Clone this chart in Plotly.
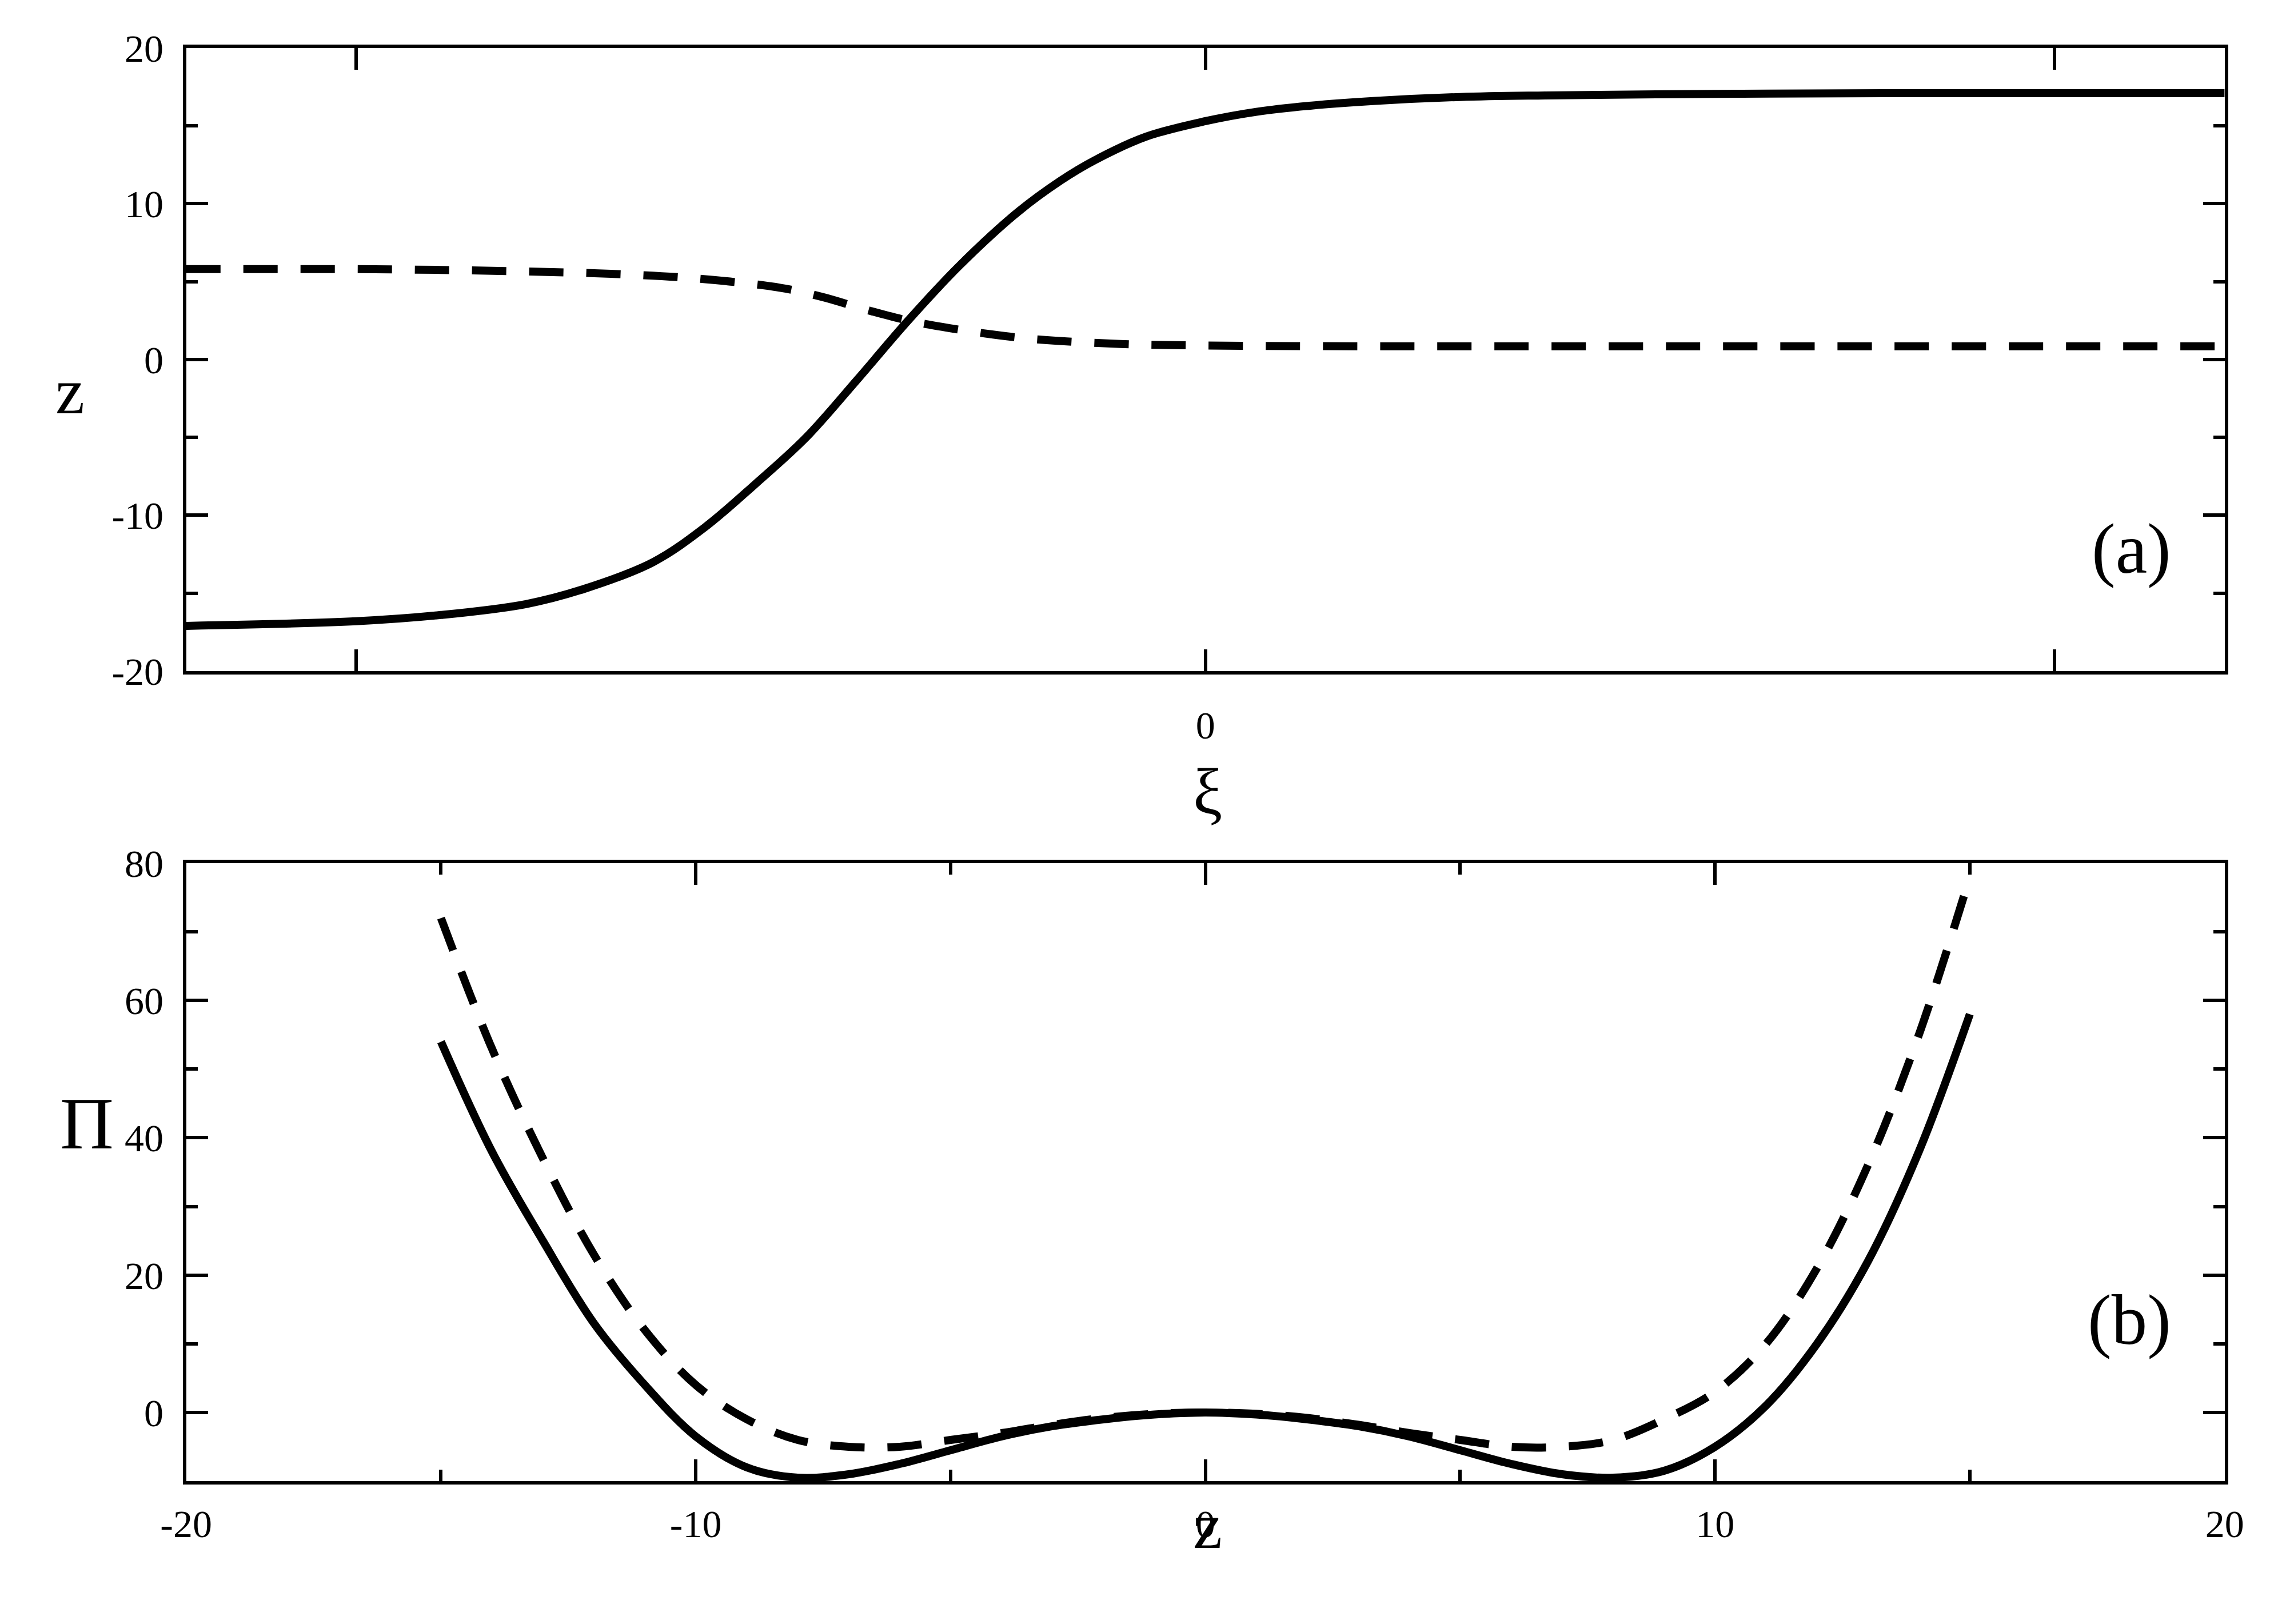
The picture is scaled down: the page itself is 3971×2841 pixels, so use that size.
import plotly.graph_objects as go

xi_solid = [-12,-10,-9,-8,-7.3,-6.5,-5.9,-5.3,-4.7,-4.1,-3.5,-2.9,-2.2,-1.7,-1.3,-0.7,0,0.6,1.25,2,3,4,6,8,12]
z_solid = [-17.1,-16.8,-16.4,-15.7,-14.7,-13.0,-10.8,-8.0,-5.0,-1.3,2.5,6.0,9.5,11.5,12.8,14.3,15.3,15.9,16.3,16.6,16.85,16.95,17.05,17.1,17.1]
xi_dash = [-12,-10,-9,-8,-7,-6,-5,-4.5,-4,-3.5,-3,-2.5,-2,-1,0,2,4,8,12]
z_dash = [5.8,5.8,5.75,5.65,5.5,5.2,4.6,4.0,3.2,2.5,2.0,1.6,1.3,1.0,0.9,0.85,0.85,0.85,0.85]

zb = list(range(-15, 16))
pi_solid = [54,38,25,13,4,-3.5,-8,-9.5,-9,-7.5,-5.5,-3.5,-2,-1,-0.3,0,-0.3,-1,-2,-3.5,-5.5,-7.5,-9,-9.5,-8.5,-5,1,10,22,38,58]
pi_dash = [72,53,37,23,12,4,-1,-4,-5,-5,-4,-3,-1.8,-0.8,-0.2,0,-0.2,-0.8,-1.8,-3,-4,-5,-5,-4,-1,3,10,21,36,55,78]

top_y_ticks = [-20, -10, 0, 10, 20]
bot_x_ticks = [-20, -10, 0, 10, 20]
bot_y_ticks = [0, 20, 40, 60, 80]

LW = 14
DASH = "60px,40px"
fig = go.Figure()
fig.add_trace(go.Scatter(x=xi_solid, y=z_solid, mode="lines", line=dict(color="black", width=LW, shape="spline"), xaxis="x", yaxis="y"))
fig.add_trace(go.Scatter(x=xi_dash, y=z_dash, mode="lines", line=dict(color="black", width=LW, dash=DASH, shape="spline"), xaxis="x", yaxis="y"))
fig.add_trace(go.Scatter(x=zb, y=pi_solid, mode="lines", line=dict(color="black", width=LW, shape="spline"), xaxis="x2", yaxis="y2"))
fig.add_trace(go.Scatter(x=zb, y=pi_dash, mode="lines", line=dict(color="black", width=LW, dash=DASH, shape="spline"), xaxis="x2", yaxis="y2"))

tf = dict(family="Liberation Serif", size=68, color="black")
common = dict(showgrid=False, zeroline=False, showline=True, linecolor="black", linewidth=6, automargin=False,
              mirror="ticks", ticks="inside", ticklen=38, tickwidth=6, tickcolor="black", tickfont=tf)
minor = dict(ticks="inside", ticklen=20, tickwidth=6, tickcolor="black")
lab = lambda v: [str(t).replace("\u2212", "-") for t in v]

tfont = dict(family="Liberation Serif", size=115, color="black")
fig.update_layout(
    width=3971, height=2841, paper_bgcolor="white", plot_bgcolor="white", showlegend=False,
    margin=dict(l=0, r=0, t=0, b=0),
    xaxis=dict(domain=[0.080, 0.978], anchor="y", range=[-12, 12], tickvals=[-10, 0, 10], ticktext=["", "0", ""], ticklabelstandoff=30, **common),
    yaxis=dict(domain=[0.5896, 0.9733], anchor="x", range=[-20, 20], tickvals=top_y_ticks, ticktext=lab(top_y_ticks),
               minor=dict(dtick=5, **minor), ticklabelstandoff=20, **common),
    xaxis2=dict(domain=[0.080, 0.978], anchor="y2", range=[-20, 20], tickvals=bot_x_ticks, ticktext=lab(bot_x_ticks),
                minor=dict(dtick=5, **minor), ticklabelstandoff=10, **common),
    yaxis2=dict(domain=[0.0908, 0.4713], anchor="x2", range=[-10, 80], tickvals=bot_y_ticks, ticktext=lab(bot_y_ticks),
                minor=dict(tickvals=[-10, 10, 30, 50, 70], **minor), ticklabelstandoff=20, **common),
    annotations=[
        dict(text="(a)", x=0.955, y=0.665, xref="paper", yref="paper", showarrow=False, xanchor="right",
             font=dict(family="Liberation Serif", size=125, color="black")),
        dict(text="(b)", x=0.955, y=0.165, xref="paper", yref="paper", showarrow=False, xanchor="right",
             font=dict(family="Liberation Serif", size=125, color="black")),
        dict(text="z", x=0.022, y=0.785, xref="paper", yref="paper", showarrow=False, font=tfont),
        dict(text="ξ", x=0.53, y=0.515, xref="paper", yref="paper", showarrow=False, font=tfont),
        dict(text="Π", x=0.024, y=0.285, xref="paper", yref="paper", showarrow=False, font=dict(family="Liberation Serif", size=130, color="black")),
        dict(text="z", x=0.53, y=0.04, xref="paper", yref="paper", showarrow=False, font=tfont),
    ],
)
fig.write_html("out.html")
